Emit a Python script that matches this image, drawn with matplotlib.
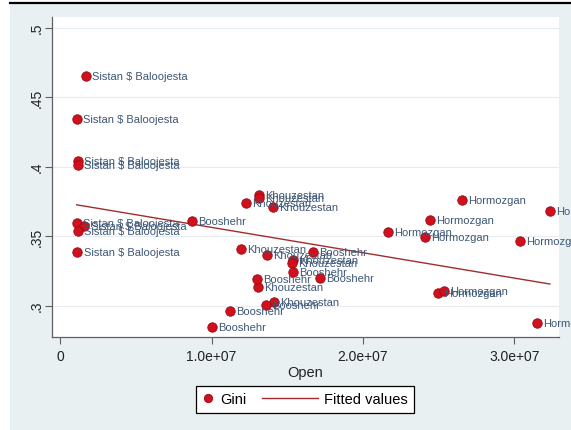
import matplotlib
matplotlib.use("Agg")
import matplotlib.pyplot as plt
from matplotlib.lines import Line2D
from matplotlib.patches import Rectangle
from matplotlib.legend_handler import HandlerLine2D

plt.rcParams['font.family'] = ['Liberation Sans', 'DejaVu Sans']

# Province-level observations: openness vs. Gini coefficient
provinces = (["Sistan $ Baloojesta"] * 8 + ["Booshehr"] + ["Khouzestan"] * 10
             + ["Booshehr"] * 7 + ["Hormozgan"] * 9)
open_vals = [1.72e6, 1.12e6, 1.19e6, 1.19e6, 1.10e6, 1.60e6, 1.17e6, 1.14e6,
             8.73e6,
             13.16e6, 13.12e6, 12.26e6, 14.06e6, 11.97e6, 13.64e6, 15.40e6,
             15.33e6, 13.09e6, 14.11e6,
             16.68e6, 15.36e6, 13.00e6, 17.14e6, 13.60e6, 11.20e6, 10.05e6,
             26.53e6, 32.34e6, 24.42e6, 21.65e6, 24.11e6, 30.34e6, 24.93e6,
             25.37e6, 31.47e6]
gini_vals = [0.4651, 0.4342, 0.4040, 0.4011, 0.3594, 0.3574, 0.3534, 0.3387,
             0.3608,
             0.3797, 0.3776, 0.3735, 0.3711, 0.3409, 0.3363, 0.3327, 0.3308,
             0.3135, 0.3023,
             0.3383, 0.3241, 0.3191, 0.3200, 0.3001, 0.2960, 0.2843,
             0.3761, 0.3678, 0.3617, 0.3531, 0.3493, 0.3462, 0.3090, 0.3104,
             0.2872]

# Linear fit evaluated at the ends of the data range
fit_x = [1.10e6, 32.34e6]
fit_y = [0.3725, 0.3155]

y_ticks = [0.3, 0.35, 0.4, 0.45, 0.5]
y_ticklabels = [".3", ".35", ".4", ".45", ".5"]
x_ticks = [0, 1e7, 2e7, 3e7]
x_ticklabels = ["0", "1.0e+07", "2.0e+07", "3.0e+07"]


class LongLineHandler(HandlerLine2D):
    """Legend line that reaches back into the column gap."""

    def __init__(self, extra, **kw):
        super().__init__(**kw)
        self.extra = extra

    def create_artists(self, legend, orig_handle, xdescent, ydescent, width,
                       height, fontsize, trans):
        artists = super().create_artists(legend, orig_handle, xdescent,
                                         ydescent, width, height, fontsize,
                                         trans)
        for a in artists:
            xd = [float(v) for v in a.get_xdata()]
            if len(xd) >= 2:
                xd[0] -= self.extra
                a.set_xdata(xd)
        return artists


W, H = 571, 431
fig = plt.figure(figsize=(W / 100, H / 100), dpi=100, facecolor="white")

# Graph region background and top rule
bg = Rectangle((10 / W, 0), 1 - 10 / W, (H - 4) / H, transform=fig.transFigure,
               facecolor="#e9f0f2", edgecolor="none", zorder=-10)
fig.patches.append(bg)
fig.add_artist(Line2D([10 / W, 1], [(H - 3.5) / H, (H - 3.5) / H],
                      transform=fig.transFigure, color="black", lw=1.6))

ax = fig.add_axes([52 / W, (H - 338) / H, (559 - 52) / W, (338 - 18) / H])
ax.set_zorder(1)
ax.set_facecolor("white")

label_color = "#3d5776"
marker_red = "#d0101c"
line_red = "#a02c2c"

pts, = ax.plot(open_vals, gini_vals, "o", color=marker_red,
               markeredgecolor="#9a0a14", markeredgewidth=0.6, markersize=6.8,
               zorder=3, label="Gini")
for x, y, name in zip(open_vals, gini_vals, provinces):
    ax.annotate(name, (x, y), xytext=(4.5, 0), textcoords="offset points",
                va="center", ha="left", fontsize=8, color=label_color,
                zorder=4, annotation_clip=False)

fit_line, = ax.plot(fit_x, fit_y, "-", color=line_red, lw=1.0, zorder=2,
                    label="Fitted values")

ax.set_xlim(-0.53e6, 32.94e6)
ax.set_ylim(0.2774, 0.5076)
ax.set_yticks(y_ticks)
ax.set_yticklabels(y_ticklabels, rotation=90, va="center")
ax.set_xticks(x_ticks)
ax.set_xticklabels(x_ticklabels)
ax.tick_params(axis="both", direction="out", length=5, width=0.8,
               colors="#606060", labelcolor="#222222", labelsize=10)
ax.tick_params(axis="x", pad=4)
ax.tick_params(axis="y", pad=1)
ax.grid(axis="y", color="#e6ecef", lw=0.8)
ax.set_axisbelow(True)

for side in ("top", "right"):
    ax.spines[side].set_visible(False)
for side in ("left", "bottom"):
    ax.spines[side].set_color("#606060")
    ax.spines[side].set_linewidth(0.9)

ax.set_xlabel("Open", fontsize=10.5, color="#222222", labelpad=1)

leg = fig.legend(handles=[pts, fit_line], loc="center",
                 bbox_to_anchor=(305 / W, (H - 400.5) / H),
                 ncol=2, frameon=True, fontsize=10.5, handlelength=0.8,
                 columnspacing=4.1, handletextpad=0.4, borderpad=0.45,
                 fancybox=False, edgecolor="black", facecolor="white",
                 framealpha=1.0,
                 handler_map={fit_line: LongLineHandler(31.5)})
leg.get_frame().set_linewidth(0.9)
leg.legend_handles[0].set_markersize(6)

fig.savefig("out.png", dpi=100, facecolor=fig.get_facecolor())
